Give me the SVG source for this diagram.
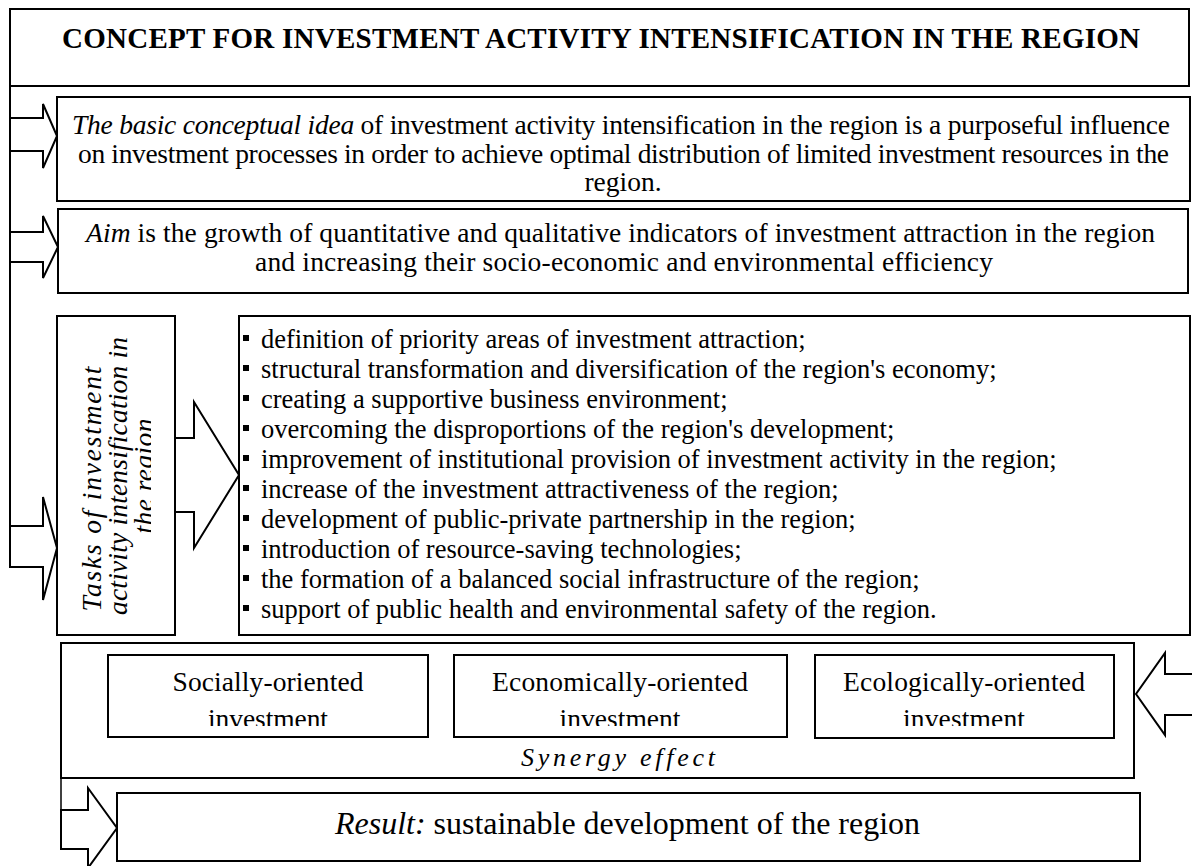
<svg xmlns="http://www.w3.org/2000/svg" width="1192" height="866" viewBox="0 0 1192 866" font-family="'Liberation Serif', 'Times New Roman', serif">
<defs>
<style>
.box{fill:#fff;stroke:#000;stroke-width:2}
.arr{fill:#fff;stroke:#000;stroke-width:2;stroke-linejoin:miter}
.ln{fill:none;stroke:#000;stroke-width:2}
.t{font-size:27.5px}
.li{font-size:26.5px}
.it{font-style:italic}
.mid{text-anchor:middle}
</style>
<clipPath id="clipInv"><rect x="0" y="640" width="1192" height="86"/></clipPath>
<clipPath id="clipTask"><rect x="58" y="317" width="93" height="317"/></clipPath>
</defs>
<rect width="1192" height="866" fill="#fff"/>

<g id="connectors">
<line class="ln" x1="10" y1="86" x2="10" y2="567"/>
<polygon class="arr" points="10,118 43,118 43,104 57,136 43,168 43,151 10,151"/>
<polygon class="arr" points="10,232 43,232 43,216 58,247 43,278 43,262 10,262"/>
<polygon class="arr" points="10,526 43,526 43,497 57,548 43,600 43,567 10,567"/>
<polygon class="arr" points="175,438 194,438 194,402 239,475 194,548 194,512 175,512"/>
<line x1="61" y1="778" x2="61" y2="810" stroke="#000" stroke-width="1.5"/>
<polygon class="arr" points="61,810 88,810 88,788 117,828 88,868 88,849 61,849"/>
<polygon class="arr" points="1197,674 1165,674 1165,653 1136,694 1165,735 1165,715 1197,715"/>
</g>

<g id="title">
<rect class="box" x="10" y="9" width="1179" height="77"/>
<text x="601" y="48" class="mid" font-size="29" font-weight="bold" textLength="1078">CONCEPT FOR INVESTMENT ACTIVITY INTENSIFICATION IN THE REGION</text>
</g>

<g id="idea">
<rect class="box" x="57" y="97" width="1133" height="104"/>
<text class="t" x="72" y="134" textLength="1098"><tspan class="it">The basic conceptual idea</tspan> of investment activity intensification in the region is a purposeful influence</text>
<text class="t" x="78" y="163" textLength="1091">on investment processes in order to achieve optimal distribution of limited investment resources in the</text>
<text class="t mid" x="623" y="191">region.</text>
</g>

<g id="aim">
<rect class="box" x="58" y="209" width="1130" height="84"/>
<text class="t" x="86" y="242" textLength="1069"><tspan class="it">Aim</tspan> is the growth of quantitative and qualitative indicators of investment attraction in the region</text>
<text class="t" x="255" y="271" textLength="738">and increasing their socio-economic and environmental efficiency</text>
</g>

<g id="tasks">
<rect class="box" x="57" y="316" width="118" height="319"/>
<g clip-path="url(#clipTask)">
<text class="t it mid" transform="translate(101,489) rotate(-90)" textLength="245">Tasks of investment</text>
<text class="t it mid" transform="translate(127,476) rotate(-90)" textLength="278">activity intensification in</text>
<text class="t it mid" transform="translate(153,476) rotate(-90)" textLength="115">the region</text>
</g>
</g>

<g id="task-list">
<rect class="box" x="239" y="316" width="951" height="319"/>
<g fill="#000">
<rect x="243" y="335" width="6" height="6"/>
<rect x="243" y="365" width="6" height="6"/>
<rect x="243" y="395" width="6" height="6"/>
<rect x="243" y="425" width="6" height="6"/>
<rect x="243" y="455" width="6" height="6"/>
<rect x="243" y="485" width="6" height="6"/>
<rect x="243" y="515" width="6" height="6"/>
<rect x="243" y="545" width="6" height="6"/>
<rect x="243" y="575" width="6" height="6"/>
<rect x="243" y="605" width="6" height="6"/>
</g>
<text class="li" x="261" y="348">definition of priority areas of investment attraction;</text>
<text class="li" x="261" y="378">structural transformation and diversification of the region's economy;</text>
<text class="li" x="261" y="408">creating a supportive business environment;</text>
<text class="li" x="261" y="438">overcoming the disproportions of the region's development;</text>
<text class="li" x="261" y="468">improvement of institutional provision of investment activity in the region;</text>
<text class="li" x="261" y="498">increase of the investment attractiveness of the region;</text>
<text class="li" x="261" y="528">development of public-private partnership in the region;</text>
<text class="li" x="261" y="558">introduction of resource-saving technologies;</text>
<text class="li" x="261" y="588">the formation of a balanced social infrastructure of the region;</text>
<text class="li" x="261" y="618">support of public health and environmental safety of the region.</text>
</g>

<g id="synergy">
<rect class="box" x="61" y="643" width="1073" height="135"/>
<text class="it" x="521" y="766" font-size="26" textLength="194">Synergy effect</text>
</g>

<g id="social">
<rect class="box" x="108" y="655" width="320" height="82"/>
<text class="t mid" x="268" y="691" textLength="191">Socially-oriented</text>
<text class="t mid" x="268" y="727.5" textLength="120" clip-path="url(#clipInv)">investment</text>
</g>

<g id="economic">
<rect class="box" x="454" y="655" width="333" height="82"/>
<text class="t mid" x="620" y="691" textLength="256">Economically-oriented</text>
<text class="t mid" x="620" y="727.5" textLength="121" clip-path="url(#clipInv)">investment</text>
</g>

<g id="ecologic">
<rect class="box" x="815" y="655" width="299" height="83"/>
<text class="t mid" x="964" y="691" textLength="242">Ecologically-oriented</text>
<text class="t mid" x="964" y="727.5" textLength="122" clip-path="url(#clipInv)">investment</text>
</g>

<g id="result">
<rect class="box" x="117" y="793" width="1023" height="68"/>
<text x="335" y="834" font-size="32" textLength="585"><tspan class="it">Result:</tspan> sustainable development of the region</text>
</g>
</svg>
